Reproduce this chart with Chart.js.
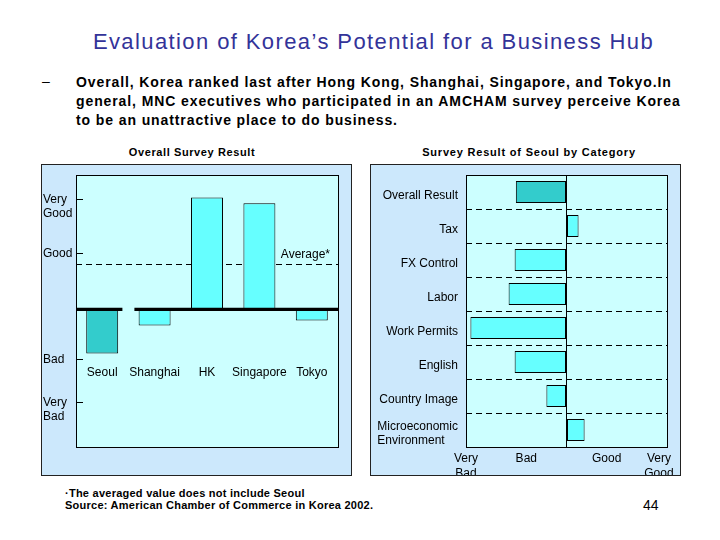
<!DOCTYPE html>
<html><head><meta charset="utf-8">
<script src="https://cdn.jsdelivr.net/npm/chart.js@4"></script>
<style>
body{margin:0;width:720px;height:540px;background:#fff;position:relative;overflow:hidden;font-family:"Liberation Sans",Arial,sans-serif;color:#000;}
.abs{position:absolute;white-space:nowrap;}
.panel{position:absolute;top:164px;width:311px;height:312px;box-sizing:border-box;border:1px solid #222;background:#cce8fc;overflow:hidden;}
.panel canvas{position:absolute;left:-42px;top:-165px;}
</style></head><body>
<div class="abs" style="left:0;width:747px;text-align:center;top:31px;font-size:22px;line-height:22px;letter-spacing:1.4px;color:#333399;">Evaluation of Korea’s Potential for a Business Hub</div>
<div class="abs" style="left:42px;top:72px;font-size:14px;line-height:19px;">–</div>
<div class="abs" style="left:76px;top:73px;font-size:14px;line-height:19px;letter-spacing:0.9px;font-weight:bold;">Overall, Korea ranked last after Hong Kong, Shanghai, Singapore, and Tokyo.In<br>general, MNC executives who participated in an AMCHAM survey perceive Korea<br>to be an unattractive place to do business.</div>
<div class="abs" style="left:92px;width:200px;text-align:center;top:146px;font-size:11px;line-height:12px;letter-spacing:0.6px;font-weight:bold;">Overall Survey Result</div>
<div class="abs" style="left:379px;width:300px;text-align:center;top:146px;font-size:11px;line-height:12px;letter-spacing:0.8px;font-weight:bold;">Survey Result of Seoul by Category</div>
<div class="panel" style="left:41px;"><canvas id="c1" width="720" height="540"></canvas></div>
<div class="panel" style="left:370px;"><canvas id="c2" width="720" height="540" style="left:-371px;"></canvas></div>
<div class="abs" style="left:65px;top:487px;font-size:11px;line-height:12px;letter-spacing:0.25px;font-weight:bold;">·The averaged value does not include Seoul<br>Source: American Chamber of Commerce in Korea 2002.</div>
<div class="abs" style="left:643px;top:498px;font-size:14px;line-height:14px;">44</div>
<script>
// ---- Left chart: Overall Survey Result ----
const cities = ['Seoul', 'Shanghai', 'HK', 'Singapore', 'Tokyo'];
const cityScores = [-0.83, -0.30, 2.11, 2.00, -0.21];
const averageScore = 0.85; // average excluding Seoul
const leftTickValues = [2.07, 1.05, -0.94, -1.75];
const leftTickLabels = [['Very', 'Good'], ['Good', ''], ['Bad', ''], ['Very', 'Bad']];

// ---- Right chart: Survey Result of Seoul by Category ----
const categories = ['Overall Result', 'Tax', 'FX Control', 'Labor', 'Work Permits', 'English', 'Country Image', ['Microeconomic', 'Environment    ']];
const seoulScores = [-1.26, 0.30, -1.29, -1.44, -2.39, -1.29, -0.50, 0.45];
const rightTickValues = [-2.5, -1, 0, 1, 2.3];
const rightTickLabels = [['Very', 'Bad'], 'Bad', '', 'Good', ['Very', 'Good']];

Chart.defaults.font.family = '"Liberation Sans", Arial, sans-serif';
Chart.defaults.font.size = 12;
Chart.defaults.color = '#000';

function fillArea(chart) {
  const {ctx, chartArea: a} = chart;
  ctx.save();
  ctx.fillStyle = '#ccffff';
  ctx.fillRect(a.left, a.top, a.right - a.left, a.bottom - a.top);
  ctx.restore();
}
function strokeArea(chart) {
  const {ctx, chartArea: a} = chart;
  ctx.save();
  ctx.strokeStyle = '#000';
  ctx.lineWidth = 1;
  ctx.setLineDash([]);
  const l = Math.round(a.left) + 0.5, t = Math.round(a.top) + 0.5;
  ctx.strokeRect(l, t, Math.round(a.right) - Math.round(a.left), Math.round(a.bottom) - Math.round(a.top));
  ctx.restore();
}

const leftDecor = {
  id: 'leftDecor',
  beforeDraw: fillArea,
  beforeDatasetsDraw(chart) {
    const {ctx, chartArea: a, scales: {y}} = chart;
    const py = Math.round(y.getPixelForValue(averageScore)) + 0.5;
    ctx.save();
    ctx.strokeStyle = '#000';
    ctx.lineWidth = 1;
    ctx.setLineDash([6, 4]);
    ctx.beginPath(); ctx.moveTo(a.left, py); ctx.lineTo(a.right, py); ctx.stroke();
    ctx.setLineDash([]);
    ctx.font = '12px "Liberation Sans", Arial, sans-serif';
    ctx.fillStyle = '#000';
    ctx.textAlign = 'right';
    ctx.textBaseline = 'middle';
    ctx.fillText('Average*', a.right - 8, py - 10);
    ctx.restore();
  },
  afterDatasetsDraw(chart) {
    const {ctx, chartArea: a, scales: {x, y}} = chart;
    const py = y.getPixelForValue(0);
    const gap = x.getPixelForValue(0.5);
    ctx.save();
    ctx.strokeStyle = '#000';
    ctx.lineWidth = 3.3;
    ctx.beginPath();
    ctx.moveTo(a.left, py); ctx.lineTo(gap - 6, py);
    ctx.moveTo(gap + 6, py); ctx.lineTo(a.right, py);
    ctx.stroke();
    ctx.restore();
  },
  afterDraw: strokeArea
};

new Chart(document.getElementById('c1'), {
  type: 'bar',
  data: {
    labels: cities,
    datasets: [{
      data: cityScores,
      backgroundColor: cities.map((c, i) => i === 0 ? '#33cccc' : '#66ffff'),
      borderColor: '#000', borderWidth: 1, borderSkipped: false,
      barPercentage: 0.61, categoryPercentage: 1
    }]
  },
  options: {
    responsive: false, animation: false, events: [],
    layout: {padding: {left: 43, right: 382, top: 175, bottom: 93}},
    plugins: {legend: {display: false}, tooltip: {enabled: false}},
    scales: {
      x: {
        type: 'category', position: {y: -1.06},
        grid: {display: false, drawTicks: false}, border: {display: false},
        ticks: {padding: 0, maxRotation: 0, autoSkip: false}
      },
      y: {
        min: -2.592, max: 2.534,
        afterBuildTicks(s) { s.ticks = leftTickValues.map(v => ({value: v})); },
        afterFit(s) { s.width = 33; },
        grid: {drawOnChartArea: false, drawTicks: true, tickLength: -7, tickColor: '#000', tickWidth: 1},
        border: {display: false},
        ticks: {crossAlign: 'far', padding: 0, labelOffset: 7, autoSkip: false,
          callback: (v, i) => leftTickLabels[i], font: {size: 12, lineHeight: 1.17}}
      }
    }
  },
  plugins: [leftDecor]
});

const rightDecor = {id: 'rightDecor', beforeDraw: fillArea, afterDraw: strokeArea};

new Chart(document.getElementById('c2'), {
  type: 'bar',
  data: {
    labels: categories,
    datasets: [{
      data: seoulScores,
      backgroundColor: categories.map((c, i) => i === 0 ? '#33cccc' : '#66ffff'),
      borderColor: '#000', borderWidth: 1, borderSkipped: false,
      barPercentage: 0.64, categoryPercentage: 1
    }]
  },
  options: {
    indexAxis: 'y', responsive: false, animation: false, events: [],
    layout: {padding: {left: 366, right: 53, top: 175, bottom: 0}},
    plugins: {legend: {display: false}, tooltip: {enabled: false}},
    scales: {
      x: {
        min: -2.5, max: 2.5,
        afterBuildTicks(s) { s.ticks = rightTickValues.map(v => ({value: v})); },
        afterFit(s) { s.height = 93; },
        grid: {color: c => (c.tick && c.tick.value === 0) ? '#000' : 'rgba(0,0,0,0)', drawTicks: false, lineWidth: 1},
        border: {display: false},
        ticks: {padding: 4, maxRotation: 0, autoSkip: false,
          callback: (v, i) => rightTickLabels[i], font: {size: 12, lineHeight: 1.25}}
      },
      y: {
        afterFit(s) { s.width = 100; },
        grid: {color: '#000', drawTicks: false, offset: true, lineWidth: 1},
        border: {display: false, dash: [6, 4]},
        ticks: {padding: 8, autoSkip: false, labelOffset: 4, font: {size: 12, lineHeight: 1.15}}
      }
    }
  },
  plugins: [rightDecor]
});
</script>
</body></html>
